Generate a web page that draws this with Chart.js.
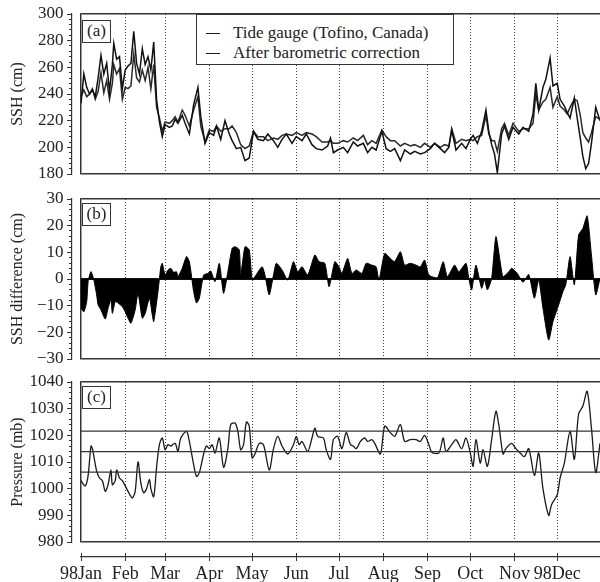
<!DOCTYPE html>
<html>
<head>
<meta charset="utf-8">
<script src="https://cdn.jsdelivr.net/npm/chart.js@4"></script>
<style>
  body { margin: 0; background: #fff; }
  #wrap { position: relative; width: 600px; height: 582px; overflow: hidden; }
  canvas { position: absolute; left: 0; }
  .tag {
    position: absolute; left: 82px; width: 29px; height: 23px; box-sizing: border-box;
    border: 1.5px solid #333; background: #fff; color: #222;
    font: 17px 'Liberation Serif', serif; text-align: center; line-height: 20px;
  }
  #legend {
    position: absolute; left: 196px; top: 14px; width: 258px; height: 51px; box-sizing: border-box;
    border: 1.5px solid #333; background: #fff;
  }
  #legend .item { position: absolute; left: 0; height: 20px; font: 17px 'Liberation Serif', serif; color: #222; white-space: nowrap; }
  #legend .swatch { position: absolute; left: 9px; top: 10px; width: 14px; border-top: 1.5px solid #1a1a1a; }
  #legend .txt { position: absolute; left: 36px; top: 0; line-height: 20px; }
</style>
</head>
<body>
<div id="wrap">
  <canvas id="chartA" width="600" height="190" style="top:0px"></canvas>
  <canvas id="chartB" width="600" height="200" style="top:179px"></canvas>
  <canvas id="chartC" width="600" height="200" style="top:362px"></canvas>
  <canvas id="chartX" width="600" height="42" style="top:540px"></canvas>
  <div class="tag" style="top:20px">(a)</div>
  <div class="tag" style="top:203px">(b)</div>
  <div class="tag" style="top:386px">(c)</div>
  <div id="legend"></div>
</div>
<script>
// 月份（年内第几天）与标签
const monthStarts = [0, 31, 59, 90, 120, 151, 181, 212, 243, 273, 304, 334];
const monthLabels = ['98Jan', 'Feb', 'Mar', 'Apr', 'May', 'Jun', 'Jul', 'Aug', 'Sep', 'Oct', 'Nov', '98Dec'];
const xEnd = 364;

// (a) 潮位计与气压校正后的海面高度 (cm)
const sshDays = [0, 2, 4, 6, 8, 10, 12, 14, 16, 18,
  20, 22, 23, 25, 27, 29, 31, 33, 35, 37,
  39, 41, 43, 45, 47, 49, 51, 53, 55, 57,
  59, 62, 64, 66, 68, 71, 73, 76, 79, 82,
  84, 87, 90, 93, 95, 98, 101, 104, 106, 109,
  112, 115, 118, 121, 124, 128, 131, 135, 138, 141,
  144, 148, 151, 155, 158, 162, 165, 169, 173, 175,
  177, 180, 184, 187, 191, 194, 198, 201, 204, 207,
  211, 214, 217, 220, 224, 227, 231, 234, 238, 241,
  245, 248, 252, 255, 258, 260, 263, 267, 270, 273,
  275, 278, 281, 284, 286, 288, 290, 292, 295, 297,
  300, 303, 307, 310, 314, 317, 319, 321, 324, 326,
  329, 331, 334, 336, 339, 341, 343, 346, 348, 350,
  352, 354, 356, 358, 361, 364];
const tideGauge = [233, 255, 245, 240, 243, 238, 252, 269, 255, 263,
  242, 262, 278, 266, 268, 244, 258, 261, 263, 287,
  263, 255, 274, 262, 268, 258, 279, 236, 219, 208,
  217, 215, 216, 221, 218, 224, 218, 210, 232, 245,
  223, 203, 211, 209, 216, 206, 220, 210, 205, 199,
  200, 190, 192, 212, 206, 205, 210, 205, 200, 206,
  210, 203, 208, 205, 210, 202, 199, 198, 201, 207,
  196, 198, 200, 196, 204, 201, 203, 196, 200, 198,
  212, 199, 197, 199, 190, 198, 195, 197, 195, 196,
  199, 203, 199, 196, 200, 213, 198, 203, 199, 206,
  209, 203, 212, 228, 212, 202, 195, 181, 210, 216,
  206, 215, 210, 215, 212, 225, 248, 228, 245, 251,
  267, 246, 248, 236, 231, 226, 222, 237, 222, 208,
  193, 184, 188, 203, 230, 220];
const corrected = [238, 243, 238, 240, 244, 236, 242, 256, 241, 250,
  236, 248, 262, 255, 259, 236, 245, 244, 246, 270,
  252, 249, 258, 250, 260, 244, 262, 230, 222, 212,
  219, 218, 220, 223, 219, 228, 224, 216, 228, 238,
  216, 204, 213, 212, 216, 212, 214, 214, 216, 211,
  202, 199, 201, 212, 208, 208, 205, 207, 206, 209,
  210, 209, 211, 209, 211, 210, 208, 204, 204, 205,
  203, 203, 205, 204, 207, 205, 209, 202, 205, 203,
  213, 208, 205, 205, 201, 203, 201, 202, 200, 203,
  200, 203, 200, 202, 201, 214, 203, 206, 205, 206,
  205, 208, 209, 224, 210, 205, 205, 197, 214, 218,
  209, 218, 212, 214, 214, 218, 240, 228, 234, 236,
  245, 230, 238, 231, 228, 225, 230, 236, 235, 225,
  211, 207, 204, 211, 223, 221];

// (b) 海面高度差 (cm)
const diffDays = [0, 2, 4, 5, 7, 9, 11, 12, 14, 17,
  19, 21, 22, 24, 26, 29, 31, 33, 35, 38,
  40, 43, 45, 48, 50, 51, 54, 56, 57, 59,
  61, 63, 65, 67, 68, 71, 74, 76, 79, 81,
  83, 86, 89, 91, 94, 97, 100, 103, 106, 108,
  111, 112, 115, 118, 120, 122, 127, 129, 132, 135,
  137, 141, 145, 149, 152, 155, 159, 164, 167, 171,
  174, 178, 181, 183, 187, 190, 193, 197, 200, 204,
  207, 209, 213, 217, 220, 224, 227, 231, 235, 238,
  241, 244, 250, 254, 257, 262, 265, 270, 272, 274,
  277, 281, 283, 285, 288, 291, 294, 296, 300, 302,
  306, 310, 314, 318, 321, 324, 328, 331, 335, 338,
  340, 343, 346, 349, 352, 355, 358, 361, 364];
const sshDiff = [-11, -12.3, -8.5, -1, 2.8, -0.4, -6, -9.7, -11.6, -15,
  -11, -7.9, -12.9, -8.5, -9, -10.4, -12.3, -14.7, -16.6, -11.6,
  -5.4, -14.7, -12.9, -7.2, -13.5, -16, -4.7, 4.6, 5.9, 1.5,
  3.4, 4, 2.5, 2.7, 0.9, 4, 8.4, 6.5, -4.7, -9,
  -7.2, 1.5, 2.1, 3, -1, 5.9, -5.4, 2.7, 11.5, 12.1,
  10.9, 1.5, 12.1, 10.9, -0.4, 0.9, 4.6, 1.5, -6, 1.5,
  5.9, 3.4, -0.4, 6.5, 2.7, 4.6, 1.5, 9, 6.5, 5.9,
  -2.9, 6.5, 4.5, 2.1, 7.7, 2.1, 3.4, 2.1, 5.9, 5.2,
  4.6, -0.4, 9.6, 7.7, 6.5, 10.2, 5.2, 5.9, 5.2, 4.6,
  7.1, 1.5, 0.5, 6.5, 0.9, 5.2, 2.7, 5.9, 0.2, -4.1,
  5.2, -3.5, -0.4, -4.1, 0.2, 15.9, 6.5, 0.9, 2.7, 4,
  2.1, -1.2, 1.7, -7.2, -0.4, -11, -22.9, -16, -9.7, -4.7,
  -2.2, 8.4, -2.2, 16.5, 19, 23.7, 9, -6, 0.2];

// (c) 气压 (mb)
const pressDays = [0, 3, 5, 7, 8, 11, 13, 15, 17, 19,
  21, 22, 24, 25, 27, 29, 32, 34, 36, 38,
  40, 42, 44, 46, 48, 49, 51, 53, 55, 57,
  59, 61, 63, 66, 68, 70, 74, 76, 79, 81,
  83, 86, 88, 90, 92, 94, 97, 100, 103, 105,
  108, 110, 112, 114, 116, 118, 120, 122, 125, 128,
  132, 135, 138, 141, 145, 149, 151, 153, 155, 159,
  162, 164, 166, 170, 172, 175, 177, 180, 183, 186,
  189, 191, 193, 196, 199, 201, 204, 206, 210, 213,
  217, 220, 224, 227, 231, 235, 238, 241, 244, 246,
  251, 254, 256, 260, 263, 267, 270, 273, 275, 277,
  280, 282, 285, 288, 291, 293, 296, 298, 302, 305,
  308, 311, 314, 318, 321, 324, 328, 330, 334, 336,
  339, 343, 346, 349, 352, 355, 358, 361, 364];
const pressure = [1003, 1001, 1005, 1016, 1015, 1006.5, 1004, 1003, 999, 1001.5,
  1007, 1001.5, 1003, 1007, 1004, 1003, 1000, 998, 996.5, 999,
  1010, 1002, 998.5, 1000, 1003.5, 1000, 997, 1008, 1016.5, 1019,
  1014.6, 1016.5, 1016, 1017, 1014, 1019, 1021.5, 1017.7, 1009, 1004.6,
  1006, 1013, 1016, 1015, 1016.5, 1013.4, 1019, 1008, 1015, 1024,
  1024.6, 1021.5, 1014.6, 1016.5, 1025, 1023.4, 1011.5, 1013, 1017, 1016.5,
  1007, 1015, 1019.6, 1016, 1013, 1016.5, 1019.6, 1016.5, 1017.7, 1014,
  1019, 1022.7, 1019.6, 1019, 1014.6, 1011, 1018.4, 1019.6, 1015, 1021,
  1016.5, 1016, 1015, 1017.7, 1019, 1017.7, 1018.4, 1017, 1013, 1023.4,
  1021, 1019.6, 1024, 1017.7, 1018.4, 1018.4, 1017.7, 1020, 1016.5, 1013.7,
  1013.4, 1019, 1014, 1016.5, 1018.4, 1015, 1019, 1013.4, 1008.4, 1018.4,
  1009.6, 1014.6, 1008.4, 1018.4, 1029, 1024, 1013, 1015, 1017, 1015,
  1013.4, 1012, 1015, 1005, 1013.4, 1000, 990, 994, 997.7, 1004,
  1009.6, 1021.5, 1011, 1028, 1031, 1036.5, 1022.7, 1006, 1017];
const pressureLevels = [1006.2, 1013.9, 1021.6];

const serif = "'Liberation Serif', serif";
const ink = '#222';

function toPoints(days, values) {
    return days.map((d, i) => ({ x: d, y: values[i] }));
}

function tickRange(min, max, step) {
    const out = [];
    for (let v = min; v <= max; v += step) out.push({ value: v });
    return out;
}

function fmt(v) {
    return v < 0 ? '\u2212' + Math.abs(v) : String(v);
}

// 创建一个面板
function makePanel(id, cfg) {
    const { datasets, yMin, yMax, yStep, major, title, padTop, padBottom } = cfg;
    return new Chart(document.getElementById(id), {
        type: 'line',
        data: { datasets },
        options: {
            responsive: false,
            animation: false,
            events: [],
            layout: { padding: { top: padTop, bottom: padBottom, left: 0, right: 0 } },
            plugins: { legend: { display: false }, tooltip: { enabled: false } },
            scales: {
                x: {
                    type: 'linear', min: 0, max: xEnd,
                    afterBuildTicks: s => { s.ticks = monthStarts.slice(1).map(v => ({ value: v })); },
                    afterFit: s => { s.height = 0; },
                    ticks: { display: false },
                    grid: { color: '#444', lineWidth: 1, drawTicks: false },
                    border: { display: false, dash: [1, 2] }
                },
                y: {
                    position: 'left', weight: 0, min: yMin, max: yMax,
                    afterBuildTicks: s => { s.ticks = [{ value: yMin }, { value: yMax }]; },
                    afterFit: s => { s.width = 9; },
                    ticks: { display: false },
                    grid: { color: '#333', lineWidth: 1.5, drawTicks: false },
                    border: { display: true, color: '#333', width: 1.5 }
                },
                y2: {
                    position: 'left', weight: 1, min: yMin, max: yMax,
                    afterBuildTicks: s => { s.ticks = tickRange(yMin, yMax, yStep); },
                    afterFit: s => { s.width = 72; },
                    ticks: {
                        autoSkip: false, padding: 3.5, color: ink,
                        font: { family: serif, size: 17 },
                        callback: v => (v % major === 0 ? fmt(v) : '')
                    },
                    grid: {
                        drawOnChartArea: false, tickLength: 5, tickColor: '#333', tickWidth: 1,
                        tickBorderDash: ctx => (ctx.tick && ctx.tick.value % major !== 0 ? [0, 2, 3, 100] : [])
                    },
                    border: { display: true, color: '#333', width: 1.2 },
                    title: {
                        display: true, text: title, color: ink,
                        font: { family: serif, size: 16 },
                        padding: { top: 8, bottom: 0 }
                    }
                }
            }
        }
    });
}

function drawAll() {
    const lineStyle = { pointRadius: 0, borderWidth: 1.5, tension: 0, fill: false };

    const chartA = makePanel('chartA', {
        datasets: [
            { label: 'Tide gauge (Tofino, Canada)', data: toPoints(sshDays, tideGauge), borderColor: '#111', ...lineStyle },
            { label: 'After barometric correction', data: toPoints(sshDays, corrected), borderColor: '#2a2a2a', ...lineStyle }
        ],
        yMin: 180, yMax: 300, yStep: 4, major: 20, title: 'SSH (cm)', padTop: 14, padBottom: 16
    });

    makePanel('chartB', {
        datasets: [
            { data: toPoints(diffDays, sshDiff), borderColor: '#000', backgroundColor: '#000', fill: 'origin', pointRadius: 0, borderWidth: 1, tension: 0.2 },
            { data: toPoints([diffDays[0], xEnd], [0, 0]), borderColor: '#111', pointRadius: 0, borderWidth: 1.8, fill: false }
        ],
        yMin: -30, yMax: 30, yStep: 2, major: 10, title: 'SSH difference (cm)', padTop: 20, padBottom: 20
    });

    makePanel('chartC', {
        datasets: pressureLevels.map(level => ({
            data: toPoints([pressDays[0], xEnd], [level, level]), borderColor: '#333', pointRadius: 0, borderWidth: 1.3, fill: false
        })).concat([
            { data: toPoints(pressDays, pressure), borderColor: '#1a1a1a', pointRadius: 0, borderWidth: 1.3, tension: 0.3, fill: false }
        ]),
        yMin: 980, yMax: 1040, yStep: 2, major: 10, title: 'Pressure (mb)', padTop: 20, padBottom: 20
    });

    // 单独的时间轴
    new Chart(document.getElementById('chartX'), {
        type: 'line',
        data: { datasets: [] },
        options: {
            responsive: false,
            animation: false,
            events: [],
            layout: { padding: { top: 13, left: 81, right: 0, bottom: 0 } },
            plugins: { legend: { display: false }, tooltip: { enabled: false } },
            scales: {
                x: {
                    type: 'linear', min: 0, max: xEnd, position: 'bottom',
                    afterBuildTicks: s => { s.ticks = monthStarts.map(v => ({ value: v })); },
                    afterFit: s => { s.height = 25; },
                    ticks: {
                        autoSkip: false, maxRotation: 0, padding: 2, color: ink,
                        font: { family: serif, size: 18 },
                        callback: (v, i) => monthLabels[i]
                    },
                    grid: { color: '#333', lineWidth: 1, tickLength: 4, tickColor: '#333' },
                    border: { display: true, color: '#333', width: 1.2 }
                },
                y: { display: false, min: 0, max: 1 }
            }
        }
    });

    // 图例（由图表数据集生成）
    const legendBox = document.getElementById('legend');
    chartA.data.datasets.forEach((ds, i) => {
        const item = document.createElement('div');
        item.className = 'item';
        item.style.top = (8 + i * 20) + 'px';
        item.innerHTML = '<span class="swatch"></span><span class="txt"></span>';
        item.querySelector('.txt').textContent = ds.label;
        legendBox.appendChild(item);
    });
}

// 先加载字体再画图
Promise.all([
    document.fonts.load("16px 'Liberation Serif'"),
    document.fonts.load("18px 'Liberation Serif'")
]).then(drawAll, drawAll);
</script>
</body>
</html>
